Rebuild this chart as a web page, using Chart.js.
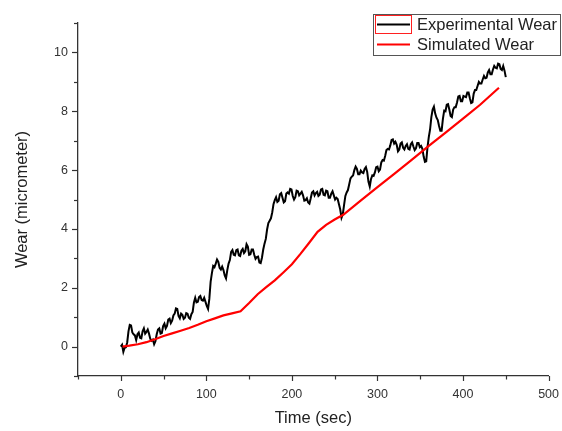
<!DOCTYPE html>
<html>
<head>
<meta charset="utf-8">
<script src="https://cdn.jsdelivr.net/npm/chart.js@4"></script>
<style>
  html, body { margin: 0; padding: 0; background: #fff; }
  canvas { display: block; }
</style>
</head>
<body>
<canvas id="wearChart" width="562" height="431"></canvas>
<script>
// Experimental wear, every 1.5 s
const expTime = [
  0, 1.5, 3, 4.5, 6, 7.5, 9, 10.5, 12, 13.5, 15, 16.5, 18, 19.5, 21, 22.5, 24, 25.5, 27, 28.5,
  30, 31.5, 33, 34.5, 36, 37.5, 39, 40.5, 42, 43.5, 45, 46.5, 48, 49.5, 51, 52.5, 54, 55.5, 57, 58.5,
  60, 61.5, 63, 64.5, 66, 67.5, 69, 70.5, 72, 73.5, 75, 76.5, 78, 79.5, 81, 82.5, 84, 85.5, 87, 88.5,
  90, 91.5, 93, 94.5, 96, 97.5, 99, 100.5, 102, 103.5, 105, 106.5, 108, 109.5, 111, 112.5, 114, 115.5, 117, 118.5,
  120, 121.5, 123, 124.5, 126, 127.5, 129, 130.5, 132, 133.5, 135, 136.5, 138, 139.5, 141, 142.5, 144, 145.5, 147, 148.5,
  150, 151.5, 153, 154.5, 156, 157.5, 159, 160.5, 162, 163.5, 165, 166.5, 168, 169.5, 171, 172.5, 174, 175.5, 177, 178.5,
  180, 181.5, 183, 184.5, 186, 187.5, 189, 190.5, 192, 193.5, 195, 196.5, 198, 199.5, 201, 202.5, 204, 205.5, 207, 208.5,
  210, 211.5, 213, 214.5, 216, 217.5, 219, 220.5, 222, 223.5, 225, 226.5, 228, 229.5, 231, 232.5, 234, 235.5, 237, 238.5,
  240, 241.5, 243, 244.5, 246, 247.5, 249, 250.5, 252, 253.5, 255, 256.5, 258, 259.5, 261, 262.5, 264, 265.5, 267, 268.5,
  270, 271.5, 273, 274.5, 276, 277.5, 279, 280.5, 282, 283.5, 285, 286.5, 288, 289.5, 291, 292.5, 294, 295.5, 297, 298.5,
  300, 301.5, 303, 304.5, 306, 307.5, 309, 310.5, 312, 313.5, 315, 316.5, 318, 319.5, 321, 322.5, 324, 325.5, 327, 328.5,
  330, 331.5, 333, 334.5, 336, 337.5, 339, 340.5, 342, 343.5, 345, 346.5, 348, 349.5, 351, 352.5, 354, 355.5, 357, 358.5,
  360, 361.5, 363, 364.5, 366, 367.5, 369, 370.5, 372, 373.5, 375, 376.5, 378, 379.5, 381, 382.5, 384, 385.5, 387, 388.5,
  390, 391.5, 393, 394.5, 396, 397.5, 399, 400.5, 402, 403.5, 405, 406.5, 408, 409.5, 411, 412.5, 414, 415.5, 417, 418.5,
  420, 421.5, 423, 424.5, 426, 427.5, 429, 430.5, 432, 433.5, 435, 436.5, 438, 439.5, 441, 442.5, 444, 445.5, 447, 448.5,
  450
];
const expWear = [
  0.0, 0.06, -0.18, -0.04, -0.02, 0.14, 0.52, 0.74, 0.72, 0.48, 0.42, 0.38, 0.22, 0.42, 0.48, 0.3, 0.28, 0.52, 0.62, 0.44,
  0.5, 0.58, 0.44, 0.26, 0.2, 0.24, 0.08, 0.18, 0.42, 0.58, 0.62, 0.44, 0.46, 0.7, 0.78, 0.62, 0.7, 0.92, 0.95, 0.8,
  0.88, 1.06, 1.12, 1.3, 1.28, 1.04, 0.96, 1.12, 1.08, 0.94, 0.98, 1.14, 1.12, 0.98, 0.94, 1.1, 1.18, 1.5, 1.66, 1.5,
  1.52, 1.68, 1.72, 1.58, 1.56, 1.66, 1.52, 1.38, 1.28, 1.62, 2.2, 2.5, 2.74, 2.7, 2.82, 2.96, 2.88, 2.68, 2.62, 2.72,
  2.6, 2.42, 2.32, 2.6, 2.82, 2.94, 3.22, 3.28, 3.12, 3.1, 3.28, 3.3, 3.1, 3.08, 3.26, 3.32, 3.18, 3.24, 3.48, 3.4,
  3.12, 3.14, 3.3, 3.3, 3.12, 2.98, 3.04, 3.06, 2.86, 2.84, 3.02, 3.3, 3.5, 3.66, 3.98, 4.2, 4.28, 4.36, 4.56, 4.84,
  4.98, 5.08, 4.92, 4.96, 5.18, 5.22, 5.06, 4.9, 4.94, 5.2, 5.24, 5.2, 5.36, 5.34, 5.12, 5.0, 5.08, 5.3, 5.28, 5.14,
  5.2, 5.26, 5.14, 4.96, 4.98, 5.04, 4.9, 4.86, 5.04, 5.24, 5.28, 5.14, 5.22, 5.26, 5.12, 5.16, 5.34, 5.36, 5.16, 5.14,
  5.3, 5.28, 5.06, 5.06, 5.2, 5.28, 5.14, 5.0, 5.06, 5.02, 4.84, 4.66, 4.38, 4.5, 4.82, 5.12, 5.24, 5.32, 5.52, 5.72,
  5.78, 5.82, 6.0, 6.12, 6.04, 5.86, 5.86, 5.98, 5.92, 5.9, 6.04, 6.1, 5.94, 5.6, 5.44, 5.7, 5.82, 5.8, 5.92, 6.1,
  6.12, 5.96, 6.02, 6.26, 6.34, 6.32, 6.48, 6.68, 6.72, 6.7, 6.84, 7.02, 7.04, 6.9, 6.96, 6.86, 6.64, 6.7, 6.9, 6.94,
  6.76, 6.7, 6.82, 6.88, 6.72, 6.7, 6.88, 6.94, 6.8, 6.68, 6.74, 6.92, 6.92, 6.78, 6.82, 6.72, 6.46, 6.28, 6.3, 6.78,
  7.12, 7.38, 7.8, 8.06, 8.16, 7.92, 7.78, 7.7, 7.5, 7.34, 7.34, 7.74, 8.02, 8.0, 8.22, 8.24, 8.06, 7.84, 7.8, 8.06,
  8.14, 8.14, 8.3, 8.5, 8.52, 8.34, 8.34, 8.52, 8.5, 8.48, 8.64, 8.64, 8.44, 8.28, 8.3, 8.6, 8.72, 8.72, 8.86, 9.0,
  8.94, 8.94, 9.08, 9.2, 9.12, 9.14, 9.32, 9.4, 9.26, 9.26, 9.42, 9.54, 9.48, 9.46, 9.62, 9.6, 9.44, 9.4, 9.54, 9.38,
  9.16
];

// Simulated wear
const simTime = [2, 10, 20, 30, 40, 50, 60, 70, 80, 90, 100, 110, 120, 130, 140, 150, 160, 170, 180, 190,
  200, 210, 220, 230, 240, 250, 260, 280, 300, 320, 340, 360, 380, 400, 420, 442];
const simWear = [0.0, 0.03, 0.08, 0.15, 0.25, 0.36, 0.45, 0.54, 0.63, 0.74, 0.86, 0.96, 1.06, 1.13, 1.2, 1.48, 1.78, 2.02, 2.25, 2.52,
  2.8, 3.15, 3.52, 3.9, 4.14, 4.32, 4.48, 4.95, 5.42, 5.88, 6.35, 6.82, 7.28, 7.75, 8.22, 8.8];

const seriesLabels = ['Experimental Wear', 'Simulated Wear'];
const xLabelTicks = [0, 100, 200, 300, 400, 500];
const yLabelTicks = [0, 2, 4, 6, 8, 10];

const FONT = "'Liberation Sans', Arial, sans-serif";
const AXIS = '#333';

// tick marks: long on labelled values, short in between
const tickMarks = {
  id: 'tickMarks',
  afterDraw(chart) {
    const ctx = chart.ctx;
    const xs = chart.scales.x, ys = chart.scales.y;
    ctx.save();
    ctx.strokeStyle = AXIS;
    ctx.lineWidth = 1.2;
    xs.ticks.forEach(t => {
      const px = Math.round(xs.getPixelForValue(t.value)) + 0.5;
      const len = xLabelTicks.includes(t.value) ? 5 : 3.5;
      ctx.beginPath();
      ctx.moveTo(px, xs.top);
      ctx.lineTo(px, xs.top + len);
      ctx.stroke();
    });
    ys.ticks.forEach(t => {
      const py = Math.round(ys.getPixelForValue(t.value)) + 0.5;
      const len = yLabelTicks.includes(t.value) ? 6 : 4;
      ctx.beginPath();
      ctx.moveTo(ys.right, py);
      ctx.lineTo(ys.right - len, py);
      ctx.stroke();
    });
    ctx.restore();
  }
};

// boxed legend in the top right corner
const boxLegend = {
  id: 'boxLegend',
  afterDraw(chart) {
    const ctx = chart.ctx;
    const ds = chart.data.datasets;
    ctx.save();
    ctx.strokeStyle = '#555';
    ctx.lineWidth = 1;
    ctx.strokeRect(373.5, 14.5, 187, 41);
    // red frame around the first sample, as in the original export
    ctx.strokeStyle = '#ff2020';
    ctx.strokeRect(375.5, 15.5, 36, 18);
    ctx.font = '16.5px ' + FONT;
    ctx.textBaseline = 'middle';
    ctx.fillStyle = '#222';
    const rows = [24.5, 44.5];
    ds.forEach((d, i) => {
      ctx.strokeStyle = d.borderColor;
      ctx.lineWidth = 2;
      ctx.beginPath();
      ctx.moveTo(377, rows[i]);
      ctx.lineTo(410, rows[i]);
      ctx.stroke();
      ctx.fillText(d.label, 417, rows[i] + 1);
    });
    ctx.restore();
  }
};

const ctx = document.getElementById('wearChart').getContext('2d');
new Chart(ctx, {
  type: 'line',
  data: {
    datasets: [{
      label: seriesLabels[0],
      data: expTime.map((t, i) => ({ x: t, y: expWear[i] })),
      borderColor: '#000',
      borderWidth: 2,
      pointRadius: 0,
      tension: 0,
      order: 1
    }, {
      label: seriesLabels[1],
      data: simTime.map((t, i) => ({ x: t, y: simWear[i] })),
      borderColor: '#ff0000',
      borderWidth: 2.2,
      pointRadius: 0,
      tension: 0,
      order: 0
    }]
  },
  options: {
    responsive: false,
    animation: false,
    layout: { padding: { top: 23, right: 5, bottom: 0, left: 0 } },
    plugins: {
      legend: { display: false },
      tooltip: { enabled: false }
    },
    scales: {
      x: {
        type: 'linear',
        min: -50,
        max: 500,
        afterFit(scale) { scale.height = 55; },
        border: { display: true, color: AXIS, width: 1.3 },
        grid: { display: false },
        ticks: {
          stepSize: 50,
          autoSkip: false,
          maxRotation: 0,
          padding: 3,
          color: '#333',
          font: { family: FONT, size: 12.5 },
          callback: v => xLabelTicks.includes(v) ? String(v) : ''
        },
        title: {
          display: true,
          text: 'Time (sec)',
          color: '#222',
          font: { family: FONT, size: 16.5 },
          padding: { top: 0, bottom: 3 }
        }
      },
      y: {
        type: 'linear',
        min: -1,
        max: 11,
        afterFit(scale) { scale.width = 78; },
        border: { display: true, color: AXIS, width: 1.3 },
        grid: { display: false },
        ticks: {
          stepSize: 1,
          autoSkip: false,
          padding: 2,
          color: '#333',
          font: { family: FONT, size: 12.5 },
          callback: v => yLabelTicks.includes(v) ? String(v) : ''
        },
        title: {
          display: true,
          text: 'Wear (micrometer)',
          color: '#222',
          font: { family: FONT, size: 16.5 },
          padding: { top: 13, bottom: 0 }
        }
      }
    }
  },
  plugins: [tickMarks, boxLegend]
});
</script>
</body>
</html>
